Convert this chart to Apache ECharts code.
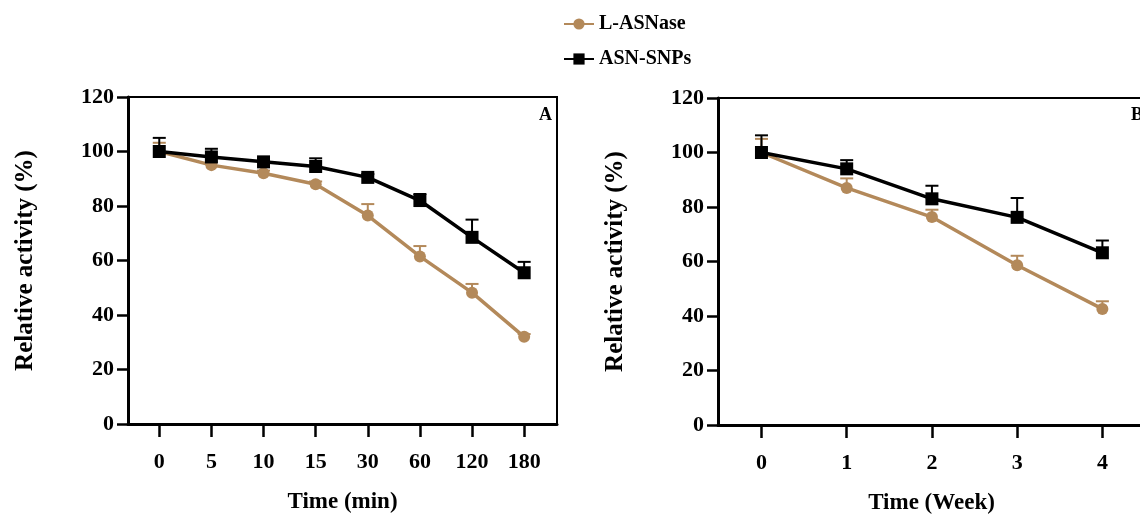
<!DOCTYPE html>
<html><head><meta charset="utf-8">
<script src="https://cdn.jsdelivr.net/npm/echarts@6/dist/echarts.min.js"></script>
<style>html,body{margin:0;padding:0;background:#fff}#c{width:1140px;height:516px}</style>
</head><body><div id="c"></div>
<script>
const timeLabelsA = ['0','5','10','15','30','60','120','180'];
const timeLabelsB = ['0','1','2','3','4'];
const yTicks = [0,20,40,60,80,100,120];
const lasnA = [100, 95, 92, 88, 76.5, 61.5, 48.2, 32];
const lasnAErr = [3.2, 1.0, 1.0, 1.0, 4.2, 3.8, 3.2, 1.0];
const snpA = [100, 98, 96.2, 94.5, 90.5, 82, 68.5, 55.5];
const snpAErr = [5, 3, 1.2, 3, 1.2, 2.4, 6.5, 4];
const lasnB = [100, 87, 76.3, 58.6, 42.6];
const lasnBErr = [5, 3.5, 2.7, 3.5, 2.8];
const snpB = [100, 94, 83, 76.2, 63.2];
const snpBErr = [6.3, 3.2, 4.8, 7.1, 4.5];

const TAN = '#b3895a';
const BLK = '#000000';
const FONT = '"Liberation Serif", "DejaVu Serif", serif';

function pts(vals){ return vals.map((v,i)=>[i,v]); }
function errPts(vals, errs){ return vals.map((v,i)=>[i,v,v+errs[i]]); }
function errRender(color){
  return function(params, api){
    const p = api.coord([api.value(0), api.value(1)]);
    const q = api.coord([api.value(0), api.value(2)]);
    const hw = 6.5;
    return {type:'group', children:[
      {type:'line', shape:{x1:p[0],y1:p[1],x2:q[0],y2:q[1]}, style:{stroke:color,lineWidth:2}},
      {type:'line', shape:{x1:q[0]-hw,y1:q[1],x2:q[0]+hw,y2:q[1]}, style:{stroke:color,lineWidth:2}}
    ]};
  };
}
function xAxis(idx, lbls, minV, maxV, name){
  const vals = lbls.map((_,i)=>i);
  return {type:'value', gridIndex:idx, min:minV, max:maxV,
    name:name, nameLocation:'middle', nameGap:67,
    nameTextStyle:{fontFamily:FONT, fontWeight:'bold', fontSize:23, color:'#000'},
    axisLine:{show:true, onZero:false, lineStyle:{color:'#000', width:3}},
    axisTick:{show:true, customValues:vals, length:13, lineStyle:{color:'#000', width:2.5}},
    axisLabel:{show:true, customValues:vals, margin:27, fontFamily:FONT, fontWeight:'bold', fontSize:22, color:'#000',
      formatter:(v)=>lbls[Math.round(v)]},
    splitLine:{show:false}};
}
function yAxis(idx, nameGap){
  return {type:'value', gridIndex:idx, min:0, max:120, interval:20,
    name:'Relative activity (%)', nameLocation:'middle', nameGap:nameGap,
    nameTextStyle:{fontFamily:FONT, fontWeight:'bold', fontSize:25, color:'#000'},
    axisLine:{show:true, onZero:false, lineStyle:{color:'#000', width:3}},
    axisTick:{show:true, length:11, lineStyle:{color:'#000', width:2.5}},
    axisLabel:{margin:14, fontFamily:FONT, fontWeight:'bold', fontSize:22, color:'#000'},
    splitLine:{show:false}};
}
function lineSeries(name, data, color, symbol, size, xi){
  return {type:'line', name:name, xAxisIndex:xi, yAxisIndex:xi, data:data,
    symbol:symbol, symbolSize:size, showSymbol:true,
    lineStyle:{color:color, width:3.5}, itemStyle:{color:color}, z:3};
}
function errSeries(data, color, xi){
  return {type:'custom', name:'err', xAxisIndex:xi, yAxisIndex:xi, data:data,
    renderItem:errRender(color), z:2, silent:true};
}

const chart = echarts.init(document.getElementById('c'));
chart.setOption({
  animation:false,
  backgroundColor:'#fff',
  legend:{data:['L-ASNase','ASN-SNPs'], orient:'vertical', left:558, top:9, itemGap:15,
    itemWidth:30, itemHeight:14,
    textStyle:{fontFamily:FONT, fontWeight:'bold', fontSize:20, color:'#000'}},
  title:[
    {text:'A', left:534, top:101, textStyle:{fontFamily:FONT, fontWeight:'bold', fontSize:18, color:'#000'}},
    {text:'B', left:1126, top:101, textStyle:{fontFamily:FONT, fontWeight:'bold', fontSize:18, color:'#000'}}
  ],
  grid:[
    {left:128, top:97, width:429, height:327, show:true, borderColor:'#000', borderWidth:2, outerBoundsMode:'none', containLabel:false},
    {left:718, top:98, width:427, height:327, show:true, borderColor:'#000', borderWidth:2, outerBoundsMode:'none', containLabel:false}
  ],
  xAxis:[
    xAxis(0, timeLabelsA, -0.6, 7.63, 'Time (min)'),
    xAxis(1, timeLabelsB, -0.51, 4.5, 'Time (Week)')
  ],
  yAxis:[ yAxis(0, 90), yAxis(1, 90) ],
  series:[
    errSeries(errPts(lasnA, lasnAErr), TAN, 0),
    lineSeries('L-ASNase', pts(lasnA), TAN, 'circle', 12, 0),
    errSeries(errPts(snpA, snpAErr), BLK, 0),
    lineSeries('ASN-SNPs', pts(snpA), BLK, 'rect', 13, 0),
    errSeries(errPts(lasnB, lasnBErr), TAN, 1),
    lineSeries('L-ASNase', pts(lasnB), TAN, 'circle', 12, 1),
    errSeries(errPts(snpB, snpBErr), BLK, 1),
    lineSeries('ASN-SNPs', pts(snpB), BLK, 'rect', 13, 1)
  ]
});
</script></body></html>
